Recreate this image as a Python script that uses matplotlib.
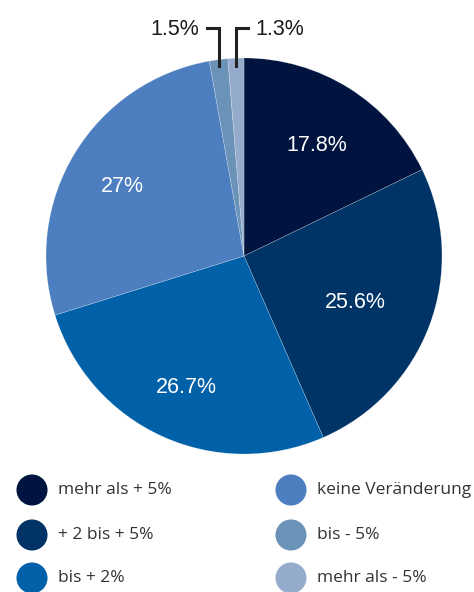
import numpy as np
import matplotlib.pyplot as plt

labels = ['mehr als + 5%', '+ 2 bis + 5%', 'bis + 2%',
          'keine Veränderung', 'bis - 5%', 'mehr als - 5%']
values = [17.8, 25.6, 26.7, 27.0, 1.5, 1.3]
value_text = ['17.8%', '25.6%', '26.7%', '27%', '1.5%', '1.3%']
colors = ['#00143f', '#003366', '#0060a8', '#4d7fc0', '#6b93b8', '#95abcc']

fig = plt.figure(figsize=(4.74, 5.92), dpi=100)
ax = fig.add_axes([46/474, 138/592, 396/474, 396/592])
wedges, _ = ax.pie(values, colors=colors, startangle=90, counterclock=False,
                   radius=1, wedgeprops=dict(edgecolor=(1, 1, 1, 0.35), linewidth=0.4))
ax.set_xlim(-1, 1)
ax.set_ylim(-1, 1)
ax.set_aspect('equal')
ax.axis('off')

# labels inside the big slices
dist = [0.69, 0.6, 0.7, 0.72]
for w, t, d in zip(wedges[:4], value_text[:4], dist):
    a = np.deg2rad((w.theta1 + w.theta2) / 2)
    ax.text(d * np.cos(a), d * np.sin(a) - 0.025, t, color='white', fontsize=15.5,
            family='Liberation Sans', ha='center', va='center')

# leader lines for the small slices
top = 1.15
for w, t, side in zip(wedges[4:], value_text[4:], [-1, 1]):
    a = np.deg2rad((w.theta1 + w.theta2) / 2)
    x = np.cos(a)
    ax.plot([x, x, x + side * 0.06], [0.96, top, top], color='#222222',
            lw=2.2, clip_on=False, solid_joinstyle='miter')
    ax.text(x + side * 0.1, top - 0.005, t, color='#1a1a1a', fontsize=15.5,
            family='Liberation Sans', ha='left' if side > 0 else 'right',
            va='center')

# legend
lg = fig.add_axes([0, 0, 1, 1])
lg.set_xlim(0, 474)
lg.set_ylim(592, 0)
lg.axis('off')
lg.patch.set_alpha(0)
pos_x = [32, 32, 32, 291, 291, 291]
pos_y = [490, 535, 578, 490, 535, 578]
for lab, c, px, py in zip(labels, colors, pos_x, pos_y):
    lg.scatter([px], [py], s=500, color=c, edgecolors='none')
    lg.text(px + 26, py, lab, fontsize=12.5, color='#333333',
            family='Open Sans', ha='left', va='center')

fig.savefig('out.png', dpi=100)
